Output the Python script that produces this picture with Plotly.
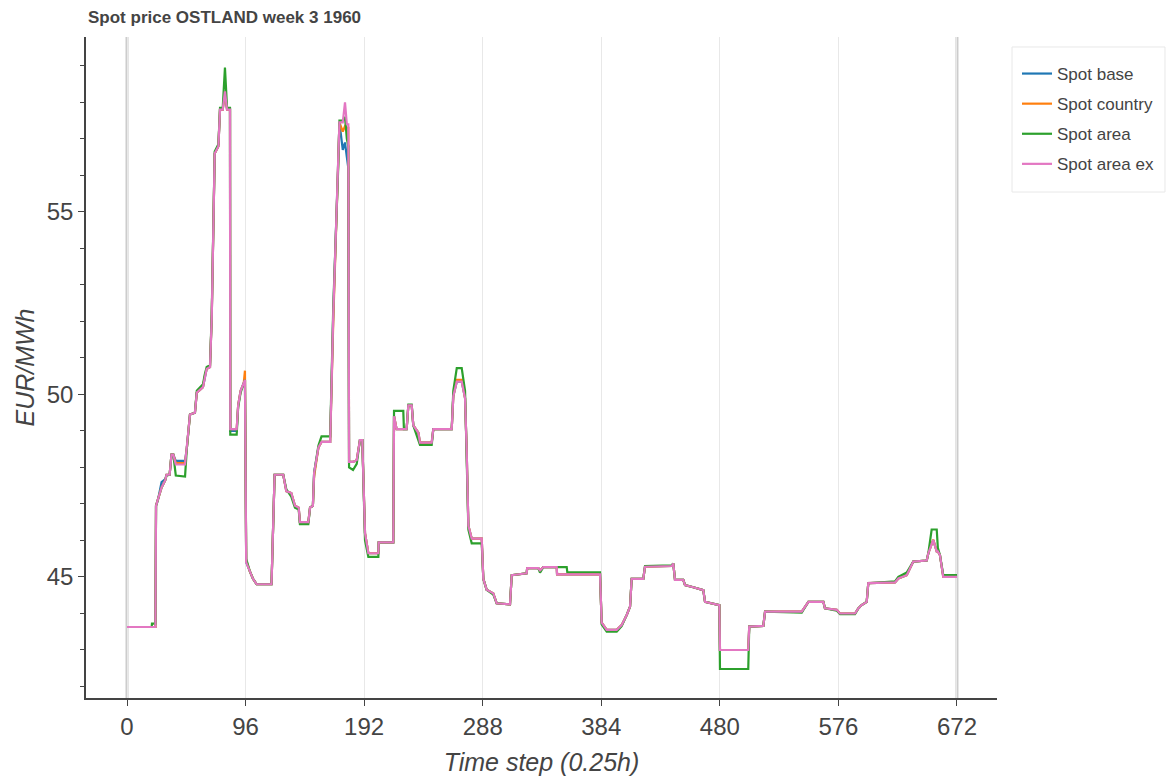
import plotly.graph_objects as go

# Time steps (0.25 h resolution) of the line vertices
time_step = [
    0, 20, 20.2, 23, 23.5, 25, 28, 31, 32, 34.5, 36, 37.5, 39.5, 47, 48.5, 51, 55, 56.5, 61.5, 63,
    64.5, 67.2, 68.6, 71, 74, 75.3, 77.5, 79.3, 81, 83.4, 83.6, 88.8, 90, 92, 94.5, 95.5, 96.5, 99.5, 102, 105,
    117, 119.5, 126.5, 129, 133, 136, 139, 140, 146.8, 148.2, 150.5, 151.5, 155, 157.5, 164.5, 167, 171, 172, 174.7, 176.5,
    178, 179.2, 179.8, 183, 186, 188.6, 190.5, 192.7, 195.4, 203.5, 203.8, 215.6, 216.2, 218.3, 223.7, 224.2, 226.4, 227.8, 230.5, 231.8,
    235.9, 237.2, 246.7, 248, 262.9, 264.2, 267, 271, 273.7, 275, 276.4, 279.1, 287.2, 288.5, 291.2, 296.6, 299.3, 310.1, 311.5, 323.6,
    324, 333, 334.4, 337.1, 347.9, 348.2, 356, 356.5, 383, 384.3, 388.4, 396.5, 400.5, 404.6, 407.3, 408.6, 418, 419.4, 441, 442.3,
    443.7, 450.4, 451.8, 458.5, 466.6, 468, 479.6, 480.1, 503, 503.8, 515.2, 516.6, 546.3, 551.7, 563.8, 565.1, 574.6, 577.3, 589.4, 592.1,
    594.8, 598.9, 600.2, 621.8, 624.5, 631.3, 636.6, 647.5, 648.8, 651.5, 652.8, 655.6, 656.5, 658.2, 660.9, 672,
]

spot_base = [
    43.63, 43.63, 43.63, 43.63, 46.95, 47.1, 47.6, 47.68, 47.8, 47.8, 48.35, 48.35, 48.18, 48.18, 48.55, 49.45, 49.5, 50.05, 50.2, 50.5,
    50.7, 50.75, 52.1, 56.6, 56.8, 57.8, 57.8, 58.3, 57.8, 57.8, 49.0, 49.0, 49.7, 50.1, 50.3, 50.4, 45.4, 45.15, 44.95, 44.8,
    44.8, 47.8, 47.8, 47.35, 47.3, 46.95, 46.9, 46.5, 46.5, 46.9, 46.95, 47.85, 48.55, 48.7, 48.7, 52.2, 56.1, 57.45, 56.7, 56.9,
    56.5, 56.2, 48.15, 48.15, 48.2, 48.75, 48.75, 46.2, 45.65, 45.65, 45.95, 45.95, 49.4, 49.05, 49.05, 49.05, 49.05, 49.7, 49.7, 49.15,
    48.95, 48.68, 48.68, 49.05, 49.05, 49.95, 50.35, 50.35, 49.9, 48.5, 46.4, 46.05, 46.05, 44.95, 44.65, 44.55, 44.28, 44.25, 45.05, 45.1,
    45.24, 45.24, 45.18, 45.27, 45.27, 45.07, 45.07, 45.07, 45.07, 43.75, 43.55, 43.55, 43.68, 43.96, 44.19, 44.95, 44.95, 45.28, 45.3, 45.37,
    44.92, 44.92, 44.78, 44.72, 44.64, 44.32, 44.23, 43.0, 43.0, 43.64, 43.66, 44.05, 44.05, 44.32, 44.32, 44.14, 44.1, 44.0, 44.0, 44.14,
    44.23, 44.32, 44.83, 44.85, 44.96, 45.05, 45.42, 45.45, 45.65, 45.9, 46.01, 45.7, 45.7, 45.6, 45.0, 45.0,
]

spot_country = [
    43.63, 43.63, 43.63, 43.63, 46.95, 47.1, 47.45, 47.65, 47.8, 47.8, 48.35, 48.35, 48.12, 48.12, 48.55, 49.45, 49.5, 50.05, 50.2, 50.5,
    50.7, 50.75, 52.1, 56.6, 56.8, 57.8, 57.8, 58.3, 57.8, 57.8, 49.05, 49.05, 49.7, 50.1, 50.3, 50.65, 45.45, 45.15, 44.95, 44.8,
    44.8, 47.8, 47.8, 47.35, 47.3, 46.95, 46.9, 46.5, 46.5, 46.9, 46.95, 47.75, 48.55, 48.7, 48.7, 52.0, 56.0, 57.45, 57.2, 57.35,
    57.3, 57.3, 48.15, 48.15, 48.2, 48.75, 48.75, 46.2, 45.65, 45.65, 45.95, 45.95, 49.4, 49.05, 49.05, 49.05, 49.05, 49.7, 49.7, 49.15,
    48.95, 48.68, 48.68, 49.05, 49.05, 49.95, 50.4, 50.4, 49.9, 48.5, 46.4, 46.05, 46.05, 44.95, 44.65, 44.55, 44.28, 44.25, 45.05, 45.1,
    45.24, 45.24, 45.18, 45.27, 45.27, 45.07, 45.07, 45.07, 45.07, 43.75, 43.55, 43.55, 43.68, 43.96, 44.19, 44.95, 44.95, 45.28, 45.3, 45.37,
    44.92, 44.92, 44.78, 44.72, 44.64, 44.32, 44.23, 43.0, 43.0, 43.64, 43.66, 44.05, 44.05, 44.32, 44.32, 44.14, 44.1, 44.0, 44.0, 44.14,
    44.23, 44.32, 44.83, 44.85, 44.96, 45.05, 45.42, 45.45, 45.65, 45.9, 46.02, 45.7, 45.7, 45.6, 45.0, 45.0,
]

spot_area = [
    43.63, 43.63, 43.72, 43.72, 46.95, 47.1, 47.45, 47.65, 47.78, 47.8, 48.35, 48.35, 47.78, 47.75, 48.55, 49.45, 49.5, 50.1, 50.28, 50.55,
    50.75, 50.8, 52.2, 56.65, 56.85, 57.85, 57.85, 58.95, 57.85, 57.85, 48.9, 48.9, 49.65, 50.05, 50.3, 50.4, 45.5, 45.15, 44.95, 44.8,
    44.8, 47.8, 47.8, 47.4, 47.2, 46.9, 46.85, 46.45, 46.45, 46.9, 46.95, 47.85, 48.6, 48.85, 48.85, 52.4, 56.2, 57.5, 57.5, 57.6,
    57.0, 56.8, 48.0, 47.93, 48.1, 48.75, 48.75, 46.0, 45.55, 45.55, 45.95, 45.95, 49.55, 49.55, 49.55, 49.05, 49.05, 49.72, 49.72, 49.15,
    48.7, 48.62, 48.62, 49.05, 49.05, 50.1, 50.72, 50.72, 50.1, 48.5, 46.3, 45.92, 45.92, 44.95, 44.65, 44.52, 44.28, 44.25, 45.05, 45.1,
    45.24, 45.24, 45.12, 45.27, 45.27, 45.27, 45.27, 45.13, 45.13, 43.7, 43.5, 43.5, 43.65, 43.96, 44.19, 44.95, 44.95, 45.3, 45.32, 45.37,
    44.92, 44.92, 44.78, 44.72, 44.64, 44.32, 44.23, 42.48, 42.48, 43.64, 43.66, 44.05, 44.02, 44.32, 44.32, 44.14, 44.08, 43.98, 43.98, 44.14,
    44.23, 44.32, 44.83, 44.88, 45.0, 45.12, 45.42, 45.45, 45.65, 46.3, 46.3, 46.3, 45.8, 45.6, 45.05, 45.05,
]

spot_area_ex = [
    43.63, 43.63, 43.63, 43.63, 46.95, 47.1, 47.45, 47.65, 47.8, 47.8, 48.35, 48.35, 48.08, 48.08, 48.55, 49.45, 49.5, 50.05, 50.2, 50.5,
    50.7, 50.75, 52.1, 56.6, 56.8, 57.8, 57.8, 58.3, 57.8, 57.8, 49.05, 49.05, 49.7, 50.1, 50.3, 50.4, 45.4, 45.15, 44.95, 44.8,
    44.8, 47.8, 47.8, 47.35, 47.3, 46.95, 46.9, 46.5, 46.5, 46.9, 46.95, 47.85, 48.55, 48.7, 48.7, 52.2, 56.1, 57.45, 57.45, 58.0,
    57.4, 57.4, 48.15, 48.15, 48.2, 48.75, 48.75, 46.2, 45.65, 45.65, 45.95, 45.95, 49.4, 49.05, 49.05, 49.05, 49.05, 49.7, 49.7, 49.15,
    48.95, 48.68, 48.68, 49.05, 49.05, 49.95, 50.35, 50.35, 49.9, 48.5, 46.4, 46.05, 46.05, 44.95, 44.65, 44.55, 44.28, 44.25, 45.05, 45.1,
    45.24, 45.24, 45.18, 45.27, 45.27, 45.07, 45.07, 45.07, 45.07, 43.75, 43.55, 43.55, 43.68, 43.96, 44.19, 44.95, 44.95, 45.28, 45.3, 45.37,
    44.92, 44.92, 44.78, 44.72, 44.64, 44.32, 44.23, 43.0, 43.0, 43.64, 43.66, 44.05, 44.05, 44.32, 44.32, 44.14, 44.1, 44.0, 44.0, 44.14,
    44.23, 44.32, 44.83, 44.85, 44.96, 45.05, 45.42, 45.45, 45.65, 45.9, 46.01, 45.7, 45.7, 45.6, 45.0, 45.0,
]

series_names = ["Spot base", "Spot country", "Spot area", "Spot area ex"]
series_colors = ["#1f77b4", "#ff7f0e", "#2ca02c", "#e377c2"]
x_ticks = [0, 96, 192, 288, 384, 480, 576, 672]
week_bounds = [0, 672]

FONT = "Liberation Sans, Arial, Helvetica, sans-serif"
TEXT = "#444444"

fig = go.Figure()
for name, color, values in zip(series_names, series_colors,
                               [spot_base, spot_country, spot_area, spot_area_ex]):
    fig.add_trace(go.Scatter(
        x=time_step, y=values, mode="lines", name=name,
        line=dict(color=color, width=2.2), legendgroup=name,
    ))

# Week boundary markers
for xb in week_bounds:
    fig.add_shape(type="line", xref="x", yref="paper", x0=xb, x1=xb, y0=0, y1=1,
                  line=dict(color="#cccccc", width=3), layer="below")

# Legend frame (padded box around the legend entries)
fig.add_shape(type="rect", xref="paper", yref="paper",
              x0=1.0165, x1=1.1844, y0=0.7655, y1=0.9849,
              line=dict(color="#e8e8e8", width=1), fillcolor="white", layer="below")

fig.update_layout(
    width=1166, height=776,
    margin=dict(l=86, r=169, t=37, b=78),
    paper_bgcolor="white", plot_bgcolor="white",
    font=dict(family=FONT, color=TEXT),
    title=dict(text="Spot price OSTLAND week 3 1960", x=88 / 1166, xref="container",
               xanchor="left", y=1 - 17 / 776, yanchor="middle",
               font=dict(size=17, weight="bold", color=TEXT)),
    showlegend=True,
    legend=dict(xref="container", yref="container", x=1017 / 1166, y=1 - 56 / 776,
                xanchor="left", yanchor="top",
                bgcolor="rgba(0,0,0,0)", borderwidth=0,
                font=dict(size=17, color=TEXT), tracegroupgap=5,
                itemwidth=30),
)

fig.update_xaxes(
    range=[-33.2, 704.4], tickvals=x_ticks, ticktext=[str(v) for v in x_ticks],
    showgrid=True, gridcolor="#e8e8e8", gridwidth=1, zeroline=False,
    showline=True, linecolor="#444444", linewidth=1.5,
    ticks="outside", ticklen=6, tickcolor="#444444",
    tickfont=dict(size=24, color=TEXT), automargin=False,
    title=dict(text="<i>Time step (0.25h)</i>", font=dict(size=25, color=TEXT), standoff=17),
)
fig.update_yaxes(
    range=[41.685, 59.79], tickvals=[45, 50, 55],
    showgrid=False, zeroline=False,
    showline=True, linecolor="#444444", linewidth=1.5,
    ticks="outside", ticklen=6, tickcolor="#444444",
    minor=dict(dtick=1, tick0=45, ticks="outside", ticklen=4, tickcolor="#444444", showgrid=False),
    tickfont=dict(size=24, color=TEXT), automargin=False,
    title=dict(text="<i>EUR/MWh</i>", font=dict(size=25, color=TEXT), standoff=5),
)

fig.write_html("out.html")
